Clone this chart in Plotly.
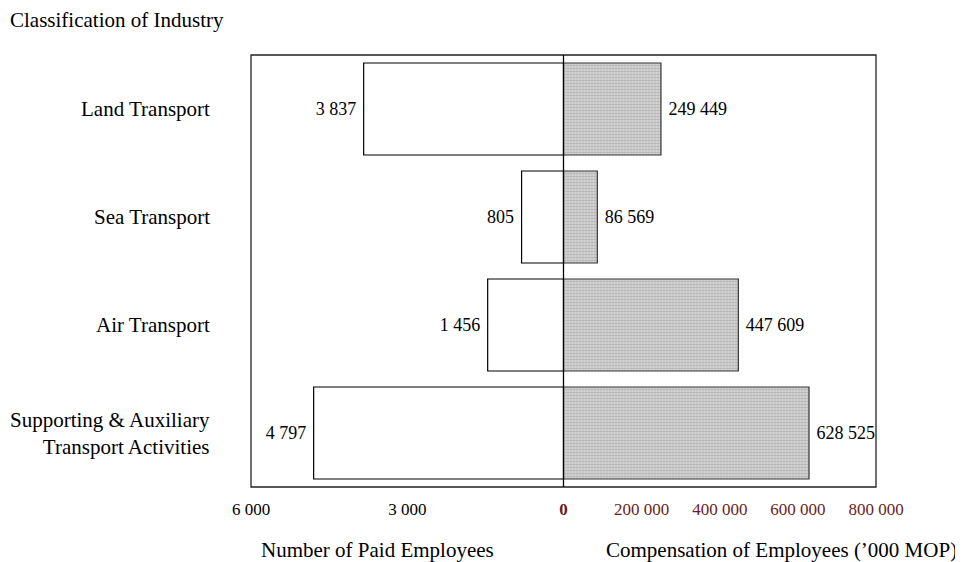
import plotly.graph_objects as go

categories = ["Land Transport", "Sea Transport", "Air Transport",
              "Supporting & Auxiliary<br>Transport Activities"]
paid_employees = [3837, 805, 1456, 4797]
compensation = [249449, 86569, 447609, 628525]
left_ticks = [6000, 3000]
right_ticks = [0, 200000, 400000, 600000, 800000]

def fmt(v):
    return f"{v:,}".replace(",", " ")

FONT = "Liberation Serif, Times New Roman, serif"
MAROON = "#6b1d1d"

fig = go.Figure()
fig.add_trace(go.Bar(
    y=categories, x=paid_employees, orientation="h",
    xaxis="x", yaxis="y",
    marker=dict(color="white", line=dict(color="black", width=1.2)),
    text=[fmt(v) + "&nbsp;" for v in paid_employees], textposition="outside",
    textfont=dict(family=FONT, size=18, color="black"),
    constraintext="none", cliponaxis=False, showlegend=False,
))
fig.add_trace(go.Bar(
    y=categories, x=compensation, orientation="h",
    xaxis="x2", yaxis="y",
    marker=dict(color="#d9d9d9", line=dict(color="#333333", width=1.2),
                pattern=dict(shape=".", size=3, solidity=0.5,
                             fgcolor="#808080", bgcolor="#e0e0e0")),
    text=["&nbsp;" + fmt(v) for v in compensation], textposition="outside",
    textfont=dict(family=FONT, size=18, color="black"),
    constraintext="none", cliponaxis=False, showlegend=False,
))

annotations = []
for cat in categories:
    annotations.append(dict(
        text=cat, xref="paper", yref="y", x=-0.062, y=cat,
        xanchor="right", yanchor="middle", align="right", showarrow=False,
        font=dict(family=FONT, size=21, color="black")))

annotations += [
    dict(text="Classification of Industry", xref="paper", yref="paper",
         x=-0.389, y=1.081, xanchor="left", yanchor="middle", showarrow=False,
         font=dict(family=FONT, size=21, color="black")),
    dict(text="Number of Paid Employees", xref="paper", yref="paper",
         x=0.202, y=-0.146, xanchor="center", yanchor="middle", showarrow=False,
         font=dict(family=FONT, size=21, color="black")),
    dict(text="Compensation of Employees (\u2019000 MOP)", xref="paper", yref="paper",
         x=0.848, y=-0.146, xanchor="center", yanchor="middle", showarrow=False,
         font=dict(family=FONT, size=21, color="black")),
]

fig.update_layout(
    width=955, height=554,
    margin=dict(l=243, r=87, t=47, b=75),
    paper_bgcolor="white", plot_bgcolor="white",
    bargap=0.148,
    font=dict(family=FONT, color="black"),
    xaxis=dict(domain=[0, 0.5], range=[6000, 0], tickvals=left_ticks,
               ticktext=[fmt(v) for v in left_ticks], showgrid=False,
               zeroline=False, showline=False, ticks="",
               ticklabelstandoff=10,
               tickfont=dict(family=FONT, size=17, color="black")),
    xaxis2=dict(domain=[0.5, 1], range=[0, 800000], tickvals=right_ticks,
                ticktext=["<b>0</b>"] + [fmt(v) for v in right_ticks[1:]],
                showgrid=False, zeroline=False, showline=False, ticks="",
                ticklabelstandoff=10, anchor="y",
                tickfont=dict(family=FONT, size=17, color=MAROON)),
    yaxis=dict(categoryorder="array", categoryarray=categories,
               range=[3.5, -0.5], showticklabels=False, showgrid=False,
               zeroline=False, showline=False, ticks=""),
    annotations=annotations,
    shapes=[
        dict(type="rect", xref="paper", yref="paper", x0=0, x1=1, y0=0, y1=1,
             line=dict(color="#222222", width=1.3), layer="above"),
        dict(type="line", xref="paper", yref="paper", x0=0.5, x1=0.5, y0=0, y1=1,
             line=dict(color="black", width=1.3), layer="above"),
    ],
)

fig.write_html("out.html")
